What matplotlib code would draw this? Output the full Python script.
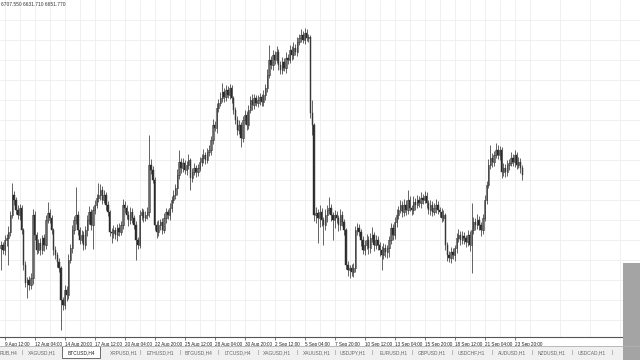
import matplotlib
matplotlib.use("Agg")
import matplotlib.pyplot as plt
from matplotlib.patches import Rectangle
import numpy as np
import pandas as pd

plt.rcParams["font.family"] = ["Liberation Sans", "DejaVu Sans"]

# BTCUSD H4 candles
first_open = 6360
closes = [
    6375, 6350, 6400, 6410, 6440, 6525, 6625, 6600, 6550, 6525,
    6560, 6450, 6275, 6185, 6200, 6175, 6210, 6525, 6425, 6350,
    6385, 6350, 6410, 6375, 6500, 6535, 6510, 6450, 6350, 6325,
    6290, 6260, 6100, 6075, 6150, 6125, 6300, 6360, 6450, 6500,
    6525, 6450, 6400, 6425, 6375, 6450, 6500, 6540, 6475, 6550,
    6575, 6610, 6625, 6650, 6600, 6625, 6575, 6540, 6440, 6435,
    6450, 6425, 6460, 6440, 6475, 6575, 6560, 6525, 6500, 6540,
    6510, 6475, 6400, 6375, 6525, 6540, 6510, 6525, 6540, 6775,
    6750, 6700, 6475, 6440, 6475, 6490, 6450, 6510, 6540, 6525,
    6560, 6600, 6625, 6660, 6725, 6790, 6760, 6785, 6750, 6775,
    6800, 6710, 6740, 6760, 6740, 6760, 6790, 6810, 6825, 6800,
    6840, 6850, 6900, 6975, 6960, 7060, 7085, 7110, 7140, 7115,
    7150, 7125, 7160, 7110, 7050, 7000, 6950, 6975, 6910, 7000,
    7025, 6975, 7050, 7100, 7075, 7110, 7085, 7100, 7115, 7090,
    7125, 7160, 7225, 7300, 7275, 7325, 7300, 7340, 7275, 7250,
    7290, 7260, 7310, 7300, 7350, 7325, 7360, 7340, 7390, 7410,
    7425, 7400, 7435, 7410, 7415, 7035, 6975, 6525, 6535, 6510,
    6540, 6500, 6475, 6525, 6550, 6560, 6525, 6500, 6525, 6510,
    6475, 6525, 6490, 6450, 6275, 6250, 6260, 6240, 6260, 6450,
    6460, 6440, 6400, 6350, 6375, 6400, 6360, 6410, 6425, 6375,
    6400, 6375, 6350, 6325, 6360, 6340, 6360, 6400, 6460, 6425,
    6490, 6525, 6550, 6575, 6540, 6575, 6550, 6600, 6560, 6550,
    6590, 6575, 6600, 6585, 6610, 6600, 6620, 6585, 6550, 6575,
    6540, 6560, 6575, 6550, 6540, 6510, 6525, 6375, 6325, 6310,
    6340, 6325, 6360, 6410, 6425, 6400, 6420, 6410, 6390, 6425,
    6375, 6450, 6490, 6475, 6500, 6475, 6450, 6510, 6600, 6675,
    6775, 6810, 6790, 6825, 6850, 6825, 6850, 6740, 6760, 6740,
    6775, 6785, 6810, 6790, 6825, 6775, 6790, 6760, 6725,
]
upper_wick = [
    20, 15, 25, 20, 30, 20, 60, 20, 15, 25,
    20, 15, 10, 20, 15, 20, 25, 30, 20, 15,
    20, 25, 15, 20, 25, 55, 20, 15, 10, 20,
    15, 20, 10, 15, 25, 20, 30, 20, 25, 20,
    140, 20, 15, 25, 20, 20, 25, 30, 15, 20,
    25, 20, 60, 30, 20, 25, 15, 20, 10, 20,
    25, 15, 20, 25, 20, 30, 20, 15, 20, 25,
    20, 15, 20, 15, 25, 20, 15, 20, 25, 150,
    30, 20, 15, 20, 25, 15, 20, 25, 20, 15,
    25, 20, 25, 20, 30, 60, 20, 25, 15, 20,
    30, 10, 20, 25, 15, 20, 25, 20, 30, 15,
    20, 25, 20, 30, 20, 25, 20, 30, 45, 20,
    25, 20, 20, 15, 10, 15, 20, 25, 15, 20,
    25, 20, 25, 20, 30, 20, 15, 25, 20, 15,
    25, 20, 30, 75, 20, 25, 20, 30, 15, 20,
    25, 20, 30, 20, 25, 20, 30, 20, 25, 20,
    30, 20, 25, 20, 15, 10, 65, 10, 30, 20,
    35, 20, 15, 30, 25, 55, 20, 15, 25, 20,
    15, 30, 20, 15, 10, 20, 15, 20, 25, 20,
    25, 20, 15, 20, 25, 30, 20, 25, 40, 15,
    25, 20, 15, 20, 25, 20, 15, 20, 25, 20,
    25, 30, 20, 25, 20, 30, 25, 50, 20, 15,
    30, 20, 25, 20, 30, 20, 25, 20, 15, 25,
    20, 25, 30, 20, 15, 20, 25, 10, 15, 20,
    25, 20, 15, 25, 30, 20, 25, 20, 15, 25,
    20, 135, 25, 20, 30, 20, 15, 20, 25, 20,
    30, 65, 25, 20, 35, 25, 20, 15, 25, 20,
    25, 20, 30, 20, 25, 15, 25, 20, 15,
]
lower_wick = [
    110, 20, 25, 30, 135, 20, 15, 25, 20, 20,
    25, 20, 25, 20, 75, 25, 20, 30, 25, 20,
    15, 25, 20, 30, 20, 15, 25, 20, 25, 20,
    25, 20, 150, 25, 20, 30, 20, 15, 25, 20,
    20, 25, 20, 15, 25, 20, 30, 20, 25, 120,
    20, 15, 20, 25, 20, 15, 25, 20, 20, 50,
    25, 20, 30, 20, 15, 20, 25, 20, 30, 20,
    25, 20, 100, 20, 15, 25, 20, 15, 20, 25,
    20, 15, 25, 30, 20, 25, 20, 15, 25, 20,
    25, 20, 15, 20, 35, 20, 25, 20, 20, 25,
    20, 60, 20, 15, 25, 20, 15, 20, 25, 20,
    15, 20, 25, 20, 15, 25, 20, 15, 20, 25,
    20, 15, 20, 25, 20, 20, 25, 20, 45, 20,
    20, 25, 20, 15, 25, 20, 15, 20, 25, 20,
    20, 25, 20, 15, 20, 25, 20, 15, 25, 20,
    20, 15, 25, 20, 15, 25, 20, 15, 20, 15,
    20, 15, 20, 15, 20, 25, 50, 30, 40, 125,
    45, 30, 100, 25, 35, 20, 30, 100, 40, 25,
    30, 25, 20, 25, 20, 30, 40, 20, 25, 20,
    25, 20, 30, 20, 25, 20, 30, 25, 20, 30,
    20, 25, 30, 75, 20, 25, 30, 45, 20, 25,
    20, 25, 20, 15, 25, 20, 25, 20, 15, 25,
    20, 25, 15, 20, 25, 20, 15, 25, 20, 25,
    20, 15, 25, 20, 25, 20, 15, 25, 30, 20,
    25, 20, 30, 25, 20, 25, 20, 30, 25, 20,
    30, 140, 20, 25, 20, 25, 30, 20, 15, 20,
    15, 20, 25, 20, 15, 20, 25, 30, 20, 25,
    20, 25, 15, 20, 25, 20, 15, 25, 25,
]
times = pd.date_range("2018-08-09 04:00", periods=len(closes), freq="4h")
header = "6707.550 6631.710 6651.770"
tabs = ["RUB,H4", "XAGUSD,H1", "BTCUSD,H4", "XRPUSD,H1", "ETHUSD,H1", "BTGUSD,H4",
        "LTCUSD,H4", "XAGUSD,H1", "XAUUSD,H1", "USDJPY,H1", "EURUSD,H1", "GBPUSD,H1",
        "USDCHF,H1", "AUDUSD,H1", "NZDUSD,H1", "USDCAD,H1"]
active_tab = "BTCUSD,H4"

c = np.array(closes, dtype=float)
o = np.concatenate([[first_open], c[:-1]])
top = np.maximum(o, c)
bot = np.minimum(o, c)
h = top + np.array(upper_wick)
l = bot - np.array(lower_wick)
idx = np.arange(len(c))

fig = plt.figure(figsize=(6.4, 3.6), dpi=100)
ax = fig.add_axes([0, 23 / 360, 1, 337 / 360])

ax.vlines(idx, l, h, color="#3a3a3a", lw=0.55)
up = c >= o
ax.bar(idx[up], np.maximum(top - bot, 2)[up], bottom=bot[up], width=0.75,
       facecolor="white", edgecolor="#333333", lw=0.45)
ax.bar(idx[~up], np.maximum(top - bot, 2)[~up], bottom=bot[~up], width=0.75,
       facecolor="#2a2a2a", edgecolor="#2a2a2a", lw=0.3)

ax.set_xlim(-0.53, 340.8)
ax.set_ylim(5915, 7600)

lab_idx = list(range(2, len(c), 16))
ax.set_xticks(lab_idx)
ax.set_xticklabels([f"{t.day} {t:%b %H:%M}" for t in times[lab_idx]],
                   fontsize=3.3, color="#222222", ha="left")
ax.set_xticks(list(range(10, 341, 16)), minor=True)
ax.set_yticks(np.arange(6000, 7600, 100))
ax.tick_params(axis="x", which="major", length=2.5, width=0.5, pad=1.0, color="#444444")
ax.tick_params(axis="x", which="minor", length=0)
ax.tick_params(axis="y", length=0, labelleft=False)
ax.grid(True, which="both", color="#eeeeee", lw=0.6)
ax.set_axisbelow(True)
for s in ["top", "right", "left"]:
    ax.spines[s].set_visible(False)
ax.spines["bottom"].set_color("#555555")
ax.spines["bottom"].set_linewidth(0.8)

fig.text(1 / 640, 1 - 4 / 360, header, fontsize=3.5, color="#333333", va="center")

# tab bar
fig.patches.append(Rectangle((0, 0), 1, 14 / 360, transform=fig.transFigure,
                             facecolor="#f0f0f0", edgecolor="none"))
fig.lines.append(plt.Line2D([0, 1], [14 / 360, 14 / 360], transform=fig.transFigure,
                            color="#b0b0b0", lw=0.6))
tab_x = [0, 28, 68, 110, 147, 185, 225, 263, 303, 340, 380, 418, 458, 498, 538, 578]
for name, x in zip(tabs, tab_x):
    if name == active_tab:
        fig.patches.append(Rectangle(((x - 6) / 640, 2 / 360), 38 / 640, 12.5 / 360,
                                     transform=fig.transFigure, facecolor="white",
                                     edgecolor="#555555", lw=0.6))
        col = "#222222"
    else:
        col = "#666666"
    fig.text(x / 640, 7.5 / 360, name, fontsize=3.5, color=col, va="center")
for sx in [22, 140, 180, 218, 258, 297, 335, 372, 412, 452, 492, 532, 572, 612]:
    fig.text(sx / 640, 7.5 / 360, "|", fontsize=4.0, color="#888888", va="center", ha="center")

# grey block at the right edge
fig.patches.append(Rectangle((623 / 640, 0), 17 / 640, 97 / 360, transform=fig.transFigure,
                             facecolor="#a4a4a4", edgecolor="none"))

fig.savefig("out.png", dpi=100)
